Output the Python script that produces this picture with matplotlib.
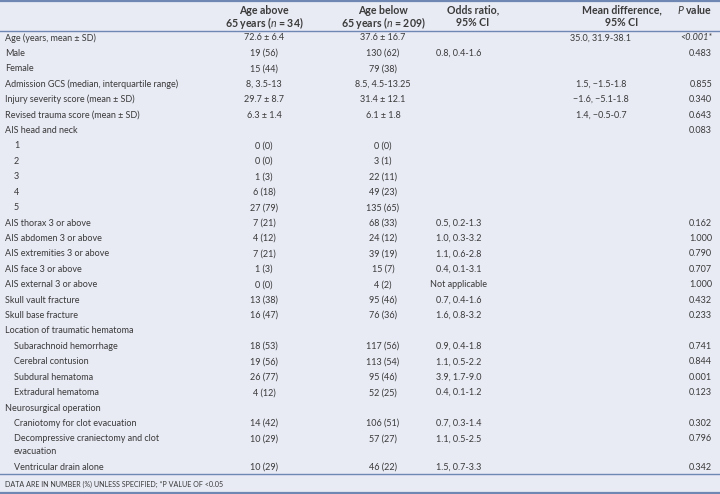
import matplotlib
matplotlib.use("Agg")
import matplotlib.pyplot as plt

plt.rcParams['font.family'] = ['Lato', 'DejaVu Sans']
plt.rcParams['mathtext.fontset'] = 'custom'
plt.rcParams['mathtext.it'] = 'Lato:italic'
plt.rcParams['mathtext.rm'] = 'Lato'

# table contents
labels = [
    "Age (years, mean \u00b1 SD)", "Male", "Female",
    "Admission GCS (median, interquartile range)",
    "Injury severity score (mean \u00b1 SD)", "Revised trauma score (mean \u00b1 SD)",
    "AIS head and neck", "1", "2", "3", "4", "5",
    "AIS thorax 3 or above", "AIS abdomen 3 or above", "AIS extremities 3 or above",
    "AIS face 3 or above", "AIS external 3 or above",
    "Skull vault fracture", "Skull base fracture",
    "Location of traumatic hematoma", "Subarachnoid hemorrhage", "Cerebral contusion",
    "Subdural hematoma", "Extradural hematoma",
    "Neurosurgical operation", "Craniotomy for clot evacuation",
    "Decompressive craniectomy and clot\nevacuation", "Ventricular drain alone",
]
indented = [0, 0, 0, 0, 0, 0, 0, 1, 1, 1, 1, 1, 0, 0, 0, 0, 0, 0, 0, 0,
            1, 1, 1, 1, 0, 1, 1, 1]
age_above = ["72.6 \u00b1 6.4", "19 (56)", "15 (44)", "8, 3.5-13", "29.7 \u00b1 8.7",
             "6.3 \u00b1 1.4", "", "0 (0)", "0 (0)", "1 (3)", "6 (18)", "27 (79)",
             "7 (21)", "4 (12)", "7 (21)", "1 (3)", "0 (0)", "13 (38)", "16 (47)", "",
             "18 (53)", "19 (56)", "26 (77)", "4 (12)", "", "14 (42)", "10 (29)", "10 (29)"]
age_below = ["37.6 \u00b1 16.7", "130 (62)", "79 (38)", "8.5, 4.5-13.25", "31.4 \u00b1 12.1",
             "6.1 \u00b1 1.8", "", "0 (0)", "3 (1)", "22 (11)", "49 (23)", "135 (65)",
             "68 (33)", "24 (12)", "39 (19)", "15 (7)", "4 (2)", "95 (46)", "76 (36)", "",
             "117 (56)", "113 (54)", "95 (46)", "52 (25)", "", "106 (51)", "57 (27)", "46 (22)"]
odds_ratio = ["", "0.8, 0.4-1.6", "", "", "", "", "", "", "", "", "", "",
              "0.5, 0.2-1.3", "1.0, 0.3-3.2", "1.1, 0.6-2.8", "0.4, 0.1-3.1",
              "Not applicable", "0.7, 0.4-1.6", "1.6, 0.8-3.2", "",
              "0.9, 0.4-1.8", "1.1, 0.5-2.2", "3.9, 1.7-9.0", "0.4, 0.1-1.2", "",
              "0.7, 0.3-1.4", "1.1, 0.5-2.5", "1.5, 0.7-3.3"]
mean_diff = ["35.0, 31.9-38.1", "", "", "1.5, \u22121.5-1.8", "\u22121.6, \u22125.1-1.8",
             "1.4, \u22120.5-0.7"] + [""] * 22
p_value = ["<0.001*", "0.483", "", "0.855", "0.340", "0.643", "0.083", "", "", "", "", "",
           "0.162", "1.000", "0.790", "0.707", "1.000", "0.432", "0.233", "",
           "0.741", "0.844", "0.001", "0.123", "", "0.302", "0.796", "0.342"]

bg = "#E8EAF4"
rule = "#6F88B3"
ink = "#3A3A3A"
fs = 6.5

fig = plt.figure(figsize=(7.2, 4.94), dpi=100, facecolor=bg)
ax = fig.add_axes([0, 0, 1, 1])
ax.set_xlim(0, 720)
ax.set_ylim(494, 0)
ax.axis("off")
ax.set_facecolor(bg)

# column anchors
x_lab, x_ind = 5, 14
x_above, x_below, x_odds, x_md, x_p = 264, 383, 459, 601, 712

# header
hd = dict(fontsize=7.6, fontweight="bold", color=ink, va="center")
ax.text(x_above, 10, "Age above", ha="center", **hd)
ax.text(x_above, 23, "65 years ($n$ = 34)", ha="center", **hd)
ax.text(x_below, 10, "Age below", ha="center", **hd)
ax.text(x_below, 23, "65 years ($n$ = 209)", ha="center", **hd)
ax.text(473, 10, "Odds ratio,", ha="center", **hd)
ax.text(473, 23, "95% CI", ha="center", **hd)
ax.text(622, 10, "Mean difference,", ha="center", **hd)
ax.text(622, 23, "95% CI", ha="center", **hd)
ax.text(x_p, 10, "$P$ value", ha="right", **hd)

for yy, lw in [(1, 1.6), (31, 1.0), (474, 1.0), (493, 1.6)]:
    ax.axhline(yy, color=rule, lw=lw)

y = 38
step = 15.42
for i, lab in enumerate(labels):
    kw = dict(fontsize=fs, color=ink, va="center")
    if "\n" in lab:
        first, second = lab.split("\n")
        ax.text(x_ind if indented[i] else x_lab, y, first, ha="left", **kw)
        ax.text(x_ind if indented[i] else x_lab, y + 13, second, ha="left", **kw)
    else:
        ax.text(x_ind if indented[i] else x_lab, y, lab, ha="left", **kw)
    ax.text(x_above, y, age_above[i], ha="center", **kw)
    ax.text(x_below, y, age_below[i], ha="center", **kw)
    ax.text(x_odds, y, odds_ratio[i], ha="center", **kw)
    ax.text(x_md, y, mean_diff[i], ha="center", **kw)
    ax.text(x_p, y, p_value[i], ha="right",
            fontstyle="italic" if p_value[i].startswith("<") else "normal", **kw)
    y += step + 13 * lab.count("\n")

ax.text(x_lab, 484, "DATA ARE IN NUMBER (%) UNLESS SPECIFIED; *P VALUE OF <0.05",
        fontsize=5.1, color=ink, va="center", ha="left")

fig.savefig("out.png", dpi=100, facecolor=bg)
